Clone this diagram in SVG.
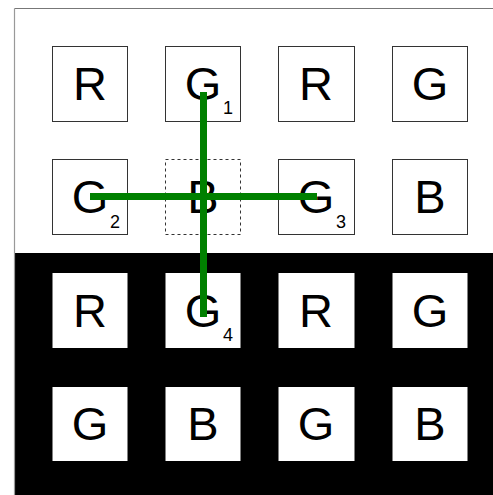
<svg xmlns="http://www.w3.org/2000/svg" width="493" height="495" viewBox="0 0 493 495">
<style>
.box{fill:#fff;stroke:#333;stroke-width:1}
.dbox{fill:#fff;stroke:#333;stroke-width:1;stroke-dasharray:3 3}
.wbox{fill:#fff;stroke:none}
.lt{font-family:"Liberation Sans",Arial,sans-serif;font-size:47px;fill:#000;text-anchor:middle}
.sub{font-family:"Liberation Sans",Arial,sans-serif;font-size:18px;fill:#000;text-anchor:middle}
.g{stroke:#008000;stroke-width:7;fill:none}
</style>
<rect x="0" y="0" width="493" height="495" fill="#fff"/>
<rect x="14.5" y="253" width="479" height="242" fill="#000"/>
<line x1="14.5" y1="8.5" x2="493" y2="8.5" stroke="#777" stroke-width="1.2"/>
<line x1="14.5" y1="8.5" x2="14.5" y2="495" stroke="#999" stroke-width="1.2"/>
<g id="r1c1"><rect class="box" x="52.5" y="46.5" width="75" height="75"/><text class="lt" x="90" y="100">R</text></g>
<g id="r1c2"><rect class="box" x="165.5" y="46.5" width="75" height="75"/><text class="lt" x="203" y="100">G</text><text class="sub" x="228" y="114">1</text></g>
<g id="r1c3"><rect class="box" x="278.5" y="46.5" width="76" height="75"/><text class="lt" x="316" y="100">R</text></g>
<g id="r1c4"><rect class="box" x="392.5" y="46.5" width="75" height="75"/><text class="lt" x="430" y="100">G</text></g>
<g id="r2c1"><rect class="box" x="52.5" y="159.5" width="75" height="75"/><text class="lt" x="90" y="213">G</text><text class="sub" x="115" y="228">2</text></g>
<g id="r2c2"><rect class="dbox" x="165.5" y="159.5" width="75" height="75"/><text class="lt" x="203" y="213">B</text></g>
<g id="r2c3"><rect class="box" x="278.5" y="159.5" width="76" height="75"/><text class="lt" x="316" y="213">G</text><text class="sub" x="341" y="228">3</text></g>
<g id="r2c4"><rect class="box" x="392.5" y="159.5" width="75" height="75"/><text class="lt" x="430" y="213">B</text></g>
<g id="r3c1"><rect class="wbox" x="52.5" y="273" width="75" height="75"/><text class="lt" x="90" y="327">R</text></g>
<g id="r3c2"><rect class="wbox" x="165.5" y="273" width="75" height="75"/><text class="lt" x="203" y="327">G</text><text class="sub" x="228" y="341">4</text></g>
<g id="r3c3"><rect class="wbox" x="278.5" y="273" width="76" height="75"/><text class="lt" x="316" y="327">R</text></g>
<g id="r3c4"><rect class="wbox" x="392.5" y="273" width="75" height="75"/><text class="lt" x="430" y="327">G</text></g>
<g id="r4c1"><rect class="wbox" x="52.5" y="387" width="75" height="74"/><text class="lt" x="90" y="440">G</text></g>
<g id="r4c2"><rect class="wbox" x="165.5" y="387" width="75" height="74"/><text class="lt" x="203" y="440">B</text></g>
<g id="r4c3"><rect class="wbox" x="278.5" y="387" width="76" height="74"/><text class="lt" x="316" y="440">G</text></g>
<g id="r4c4"><rect class="wbox" x="392.5" y="387" width="75" height="74"/><text class="lt" x="430" y="440">B</text></g>
<g id="connectors">
<line class="g" x1="203.5" y1="92" x2="203.5" y2="317"/>
<line class="g" x1="90" y1="196.5" x2="317" y2="196.5"/>
</g>
</svg>
